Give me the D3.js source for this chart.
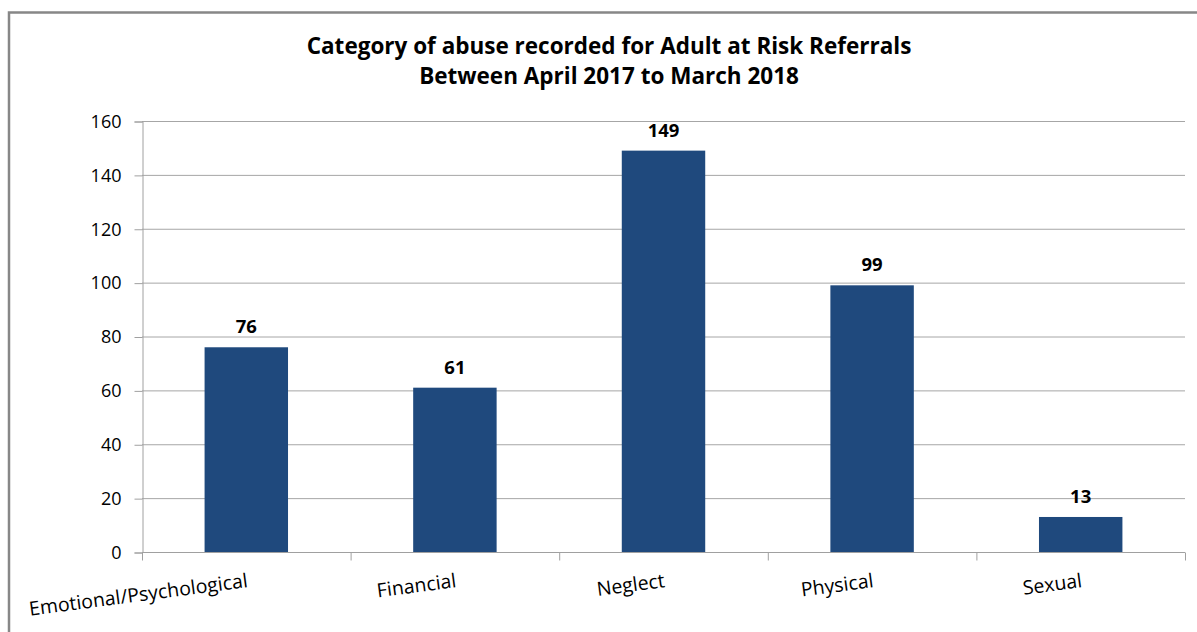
<!DOCTYPE html>
<html lang="en">
<head>
	<meta charset="utf-8">
	<title>Category of abuse - Adult at Risk Referrals</title>
	<script type="text/javascript" src="https://cdn.jsdelivr.net/npm/d3@7/dist/d3.min.js"></script>
</head>
<style type="text/css">
	body{ margin:0; background:#fff; }
	svg{ display:block; }
	text{ font-family: "Open Sans", sans-serif; fill:#000; }
</style>
<body>
<div id="vizContainer"></div>
<script type="text/javascript">
// -----------PART 1: THE DATA-----------
var categories = ["Emotional/Psychological", "Financial", "Neglect", "Physical", "Sexual"];
var counts = [76, 61, 149, 99, 13];
var yTicks = [0, 20, 40, 60, 80, 100, 120, 140, 160];
var titleLines = ["Category of abuse recorded for Adult at Risk Referrals", "Between April 2017 to March 2018"];

// -----------PART 2: THE CANVAS-----------
var width = 1197;
var height = 632;
var svgCanvas = d3.select("#vizContainer").append("svg")
	.attr("width", width)
	.attr("height", height);

// chart frame (runs off the right and bottom of the window)
svgCanvas.append("rect")
	.attr("x", 9).attr("y", 12.5)
	.attr("width", 1240).attr("height", 700)
	.attr("fill", "none")
	.attr("stroke", "#878787")
	.attr("stroke-width", 2.5);

var plotLeft = 142, plotRight = 1185, plotTop = 121, plotBottom = 552;

var xScale = d3.scaleBand()
	.domain(categories)
	.range([plotLeft, plotRight])
	.paddingInner(0.6)
	.paddingOuter(0.3);
var xBands = d3.scaleBand().domain(categories).range([plotLeft, plotRight]);
var yScale = d3.scaleLinear()
	.domain([0, 160])
	.range([plotBottom, plotTop]);

// -----------PART 3: DRAWING-----------
// title
svgCanvas.selectAll(".title")
	.data(titleLines)
	.enter()
	.append("text")
	.attr("class", "title")
	.attr("x", 609)
	.attr("y", function(d, i){ return 54 + i * 30; })
	.attr("text-anchor", "middle")
	.style("font-size", "22.5px")
	.style("font-weight", "bold")
	.text(function(d){ return d; });

// gridlines
svgCanvas.selectAll(".grid")
	.data(yTicks.slice(1))
	.enter()
	.append("line")
	.attr("x1", plotLeft).attr("x2", plotRight)
	.attr("y1", function(d){ return yScale(d) + 0.5; })
	.attr("y2", function(d){ return yScale(d) + 0.5; })
	.attr("stroke", "#a6a6a6")
	.attr("stroke-width", 1);

// y axis
var yAxis = svgCanvas.append("g")
	.attr("transform", "translate(" + (plotLeft + 0.5) + ",0.5)")
	.call(d3.axisLeft(yScale).tickValues(yTicks).tickSize(8).tickPadding(13));
yAxis.selectAll("path, line").attr("stroke", "#a0a0a0");
yAxis.selectAll("text")
	.style("font-size", "18px")
	.style("font-family", "'Open Sans', sans-serif")
	.attr("fill", "#222");

// bars
svgCanvas.selectAll(".bar")
	.data(counts)
	.enter()
	.append("rect")
	.attr("class", "bar")
	.attr("x", function(d, i){ return xScale(categories[i]); })
	.attr("y", function(d){ return yScale(d); })
	.attr("width", xScale.bandwidth())
	.attr("height", function(d){ return plotBottom - yScale(d); })
	.attr("fill", "#1f497d");

// x axis with ticks between categories
var xAxisG = svgCanvas.append("g").attr("transform", "translate(0," + (plotBottom + 0.5) + ")");
xAxisG.append("line")
	.attr("x1", plotLeft).attr("x2", plotRight)
	.attr("stroke", "#a0a0a0");
xAxisG.selectAll(".xtick")
	.data(categories.concat(["end"]))
	.enter()
	.append("line")
	.attr("x1", function(d, i){ return plotLeft + i * xBands.bandwidth() + 0.5; })
	.attr("x2", function(d, i){ return plotLeft + i * xBands.bandwidth() + 0.5; })
	.attr("y1", 0).attr("y2", 8)
	.attr("stroke", "#a0a0a0");

// category labels, slightly tilted
svgCanvas.selectAll(".xlabel")
	.data(categories)
	.enter()
	.append("text")
	.attr("transform", function(d){
		var cx = xBands(d) + xBands.bandwidth() / 2 + 2;
		return "translate(" + cx + "," + 587 + ") rotate(-7.5)";
	})
	.attr("text-anchor", "end")
	.style("font-size", "19.5px")
	.text(function(d){ return d; });

// value labels
svgCanvas.selectAll(".vlabel")
	.data(counts)
	.enter()
	.append("text")
	.attr("x", function(d, i){ return xScale(categories[i]) + xScale.bandwidth() / 2; })
	.attr("y", function(d){ return yScale(d) - 14; })
	.attr("text-anchor", "middle")
	.style("font-size", "18.5px")
	.style("font-weight", "bold")
	.text(function(d){ return d; });
</script>
</body>
</html>
